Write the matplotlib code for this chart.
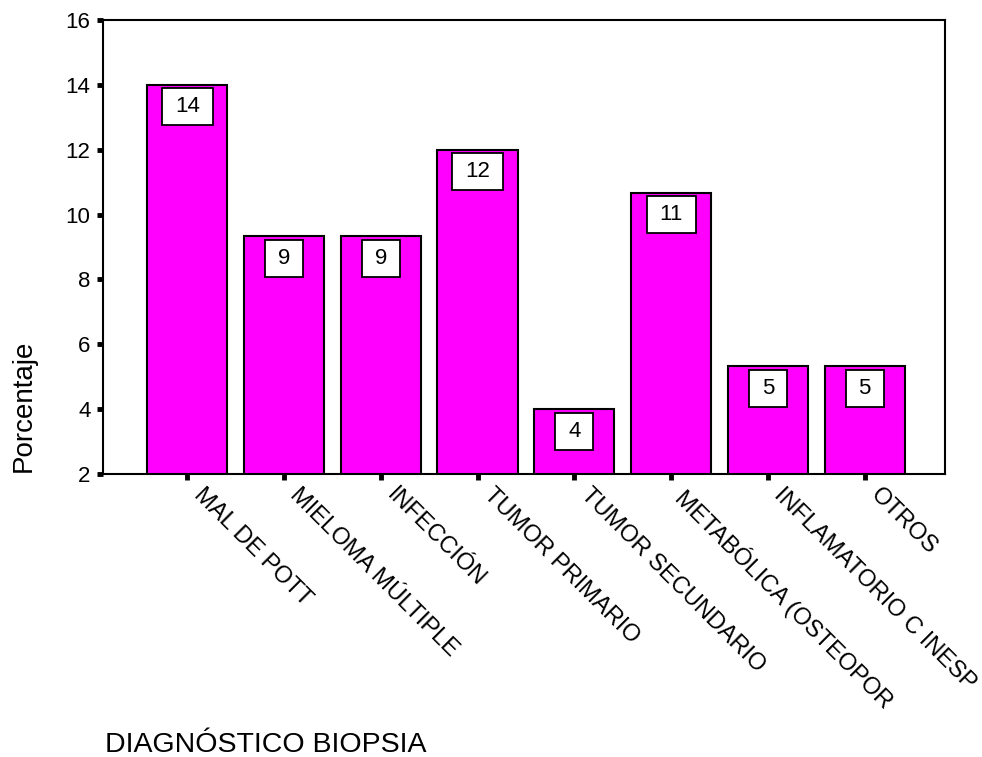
import matplotlib
matplotlib.use("Agg")
import matplotlib.pyplot as plt
from matplotlib.path import Path
from matplotlib.transforms import ScaledTranslation

categories = ["MAL DE POTT", "MIELOMA MÚLTIPLE", "INFECCIÓN", "TUMOR PRIMARIO",
              "TUMOR SECUNDARIO", "METABÓLICA (OSTEOPOR", "INFLAMATORIO C INESP", "OTROS"]
percent = [14.0, 9.33, 9.33, 12.0, 4.0, 10.67, 5.33, 5.33]
yticks = [2, 4, 6, 8, 10, 12, 14, 16]

plt.rcParams['font.family'] = ['Liberation Sans', 'DejaVu Sans']


def label_box(x0, y0, width, height, mutation_size, padx=0.58, pady=0.36):
    """Rectangular label frame with wider horizontal than vertical padding."""
    px, py = padx * mutation_size, pady * mutation_size
    verts = [(x0 - px, y0 - py), (x0 + width + px, y0 - py),
             (x0 + width + px, y0 + height + py), (x0 - px, y0 + height + py),
             (x0 - px, y0 - py)]
    codes = [Path.MOVETO, Path.LINETO, Path.LINETO, Path.LINETO, Path.CLOSEPOLY]
    return Path(verts, codes)


fig = plt.figure(figsize=(9.82, 7.57), dpi=100)
ax = fig.add_axes([103 / 982, 1 - 474 / 757, (945 - 103) / 982, (474 - 20) / 757])

x = list(range(len(categories)))
ax.bar(x, percent, width=0.83, color='#FF00FF', edgecolor='black', linewidth=1.5)

for xi, v in zip(x, percent):
    ax.annotate(f"{v:.0f}", xy=(xi, v), xytext=(0, -8.3), textcoords='offset points',
                ha='center', va='top', fontsize=16,
                bbox=dict(boxstyle=label_box, fc='white', ec='black', lw=1.3))

ax.set_ylim(2, 16)
ax.set_xlim(-0.87, 7.83)
ax.tick_params(axis='both', direction='out', length=4, width=3.5, color='black', pad=5)
ax.set_yticks(yticks)
ax.set_yticklabels([str(t) for t in yticks], fontsize=16)
ax.set_xticks(x)
ax.set_xticklabels(categories, fontsize=17, rotation=-45, ha='left', va='top',
                   rotation_mode='anchor')
shift = ScaledTranslation(12.5 / 72, 1.5 / 72, fig.dpi_scale_trans)
for lab in ax.get_xticklabels():
    lab.set_transform(lab.get_transform() + shift)
for s in ax.spines.values():
    s.set_linewidth(1.5)

fig.text(24 / 982, 1 - 406 / 757, "Porcentaje", rotation=90, ha='center', va='center', fontsize=20)
fig.text(105 / 982, 1 - 752 / 757, "DIAGNÓSTICO BIOPSIA", ha='left', va='baseline', fontsize=20.5)

fig.savefig("out.png", dpi=100)
